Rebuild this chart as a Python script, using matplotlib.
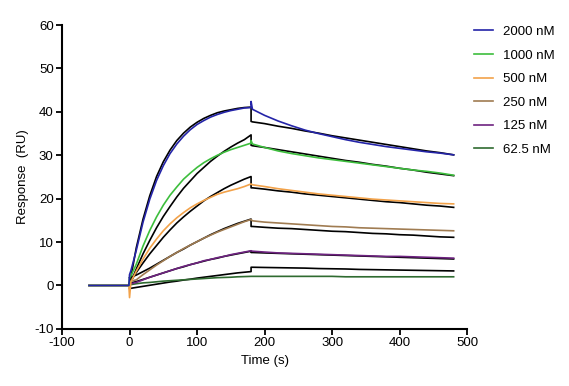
import matplotlib
matplotlib.use("Agg")
import matplotlib.pyplot as plt
import numpy as np

plt.rcParams['font.family'] = ['Liberation Sans', 'DejaVu Sans']
plt.rcParams['axes.unicode_minus'] = False

# concentrations / legend
labels = ['2000 nM', '1000 nM', '500 nM', '250 nM', '125 nM', '62.5 nM']
colors = ['#2424A8', '#3DBE3D', '#F2A24A', '#A07C52', '#6E2380', '#2F6B30']

# time axes (s)
t_base = [-60, -40, -20, -1]
t_assoc = [0, 2, 10, 20, 30, 40, 50, 60, 70, 80, 90, 100, 110, 120, 130, 140, 150, 160, 170, 180]
t_dissoc = [180, 182, 200, 220, 240, 260, 280, 300, 320, 340, 360, 380, 400, 420, 440, 460, 480]

# measured responses (RU)
base = [0, 0, 0, 0]
assoc = {
    '2000 nM': [2.5, 3.4, 8.1, 14.6, 19.9, 24.2, 27.6, 30.4, 32.6, 34.4, 35.9, 37.1, 38.0, 38.8, 39.4, 39.9, 40.3, 40.6, 40.9, 41.0],
    '1000 nM': [1.8, 2.2, 4.9, 9.1, 12.7, 15.8, 18.5, 20.8, 22.7, 24.5, 25.9, 27.2, 28.3, 29.2, 30.0, 30.7, 31.3, 31.8, 32.3, 32.8],
    '500 nM': [-2.8, 0.8, 3.3, 6.1, 8.6, 10.7, 12.6, 14.2, 15.6, 16.8, 17.9, 18.8, 19.6, 20.3, 21.0, 21.5, 21.9, 22.3, 22.8, 23.4],
    '250 nM': [0.8, 1.0, 1.3, 2.5, 3.6, 4.7, 5.7, 6.7, 7.6, 8.5, 9.3, 10.1, 10.9, 11.6, 12.3, 12.9, 13.5, 14.1, 14.7, 15.2],
    '125 nM': [0.3, 0.4, 0.7, 1.3, 1.9, 2.4, 2.9, 3.4, 3.9, 4.4, 4.8, 5.2, 5.7, 6.0, 6.4, 6.7, 7.1, 7.4, 7.7, 8.0],
    '62.5 nM': [0.1, 0.2, 0.4, 0.6, 0.7, 0.85, 1.0, 1.1, 1.2, 1.3, 1.4, 1.5, 1.6, 1.7, 1.8, 1.85, 1.9, 2.0, 2.05, 2.1],
}
dissoc = {
    '2000 nM': [42.4, 40.6, 39.2, 37.9, 36.8, 35.8, 35.0, 34.3, 33.6, 33.0, 32.5, 32.0, 31.6, 31.2, 30.8, 30.5, 30.1],
    '1000 nM': [33.4, 32.6, 31.8, 31.0, 30.4, 29.9, 29.4, 29.0, 28.6, 28.2, 27.8, 27.4, 27.0, 26.6, 26.3, 25.9, 25.4],
    '500 nM': [23.4, 23.2, 22.8, 22.3, 21.9, 21.5, 21.1, 20.8, 20.5, 20.2, 19.9, 19.7, 19.5, 19.3, 19.1, 18.9, 18.8],
    '250 nM': [15.2, 14.9, 14.6, 14.4, 14.2, 14.0, 13.8, 13.6, 13.5, 13.3, 13.2, 13.1, 13.0, 12.9, 12.8, 12.7, 12.6],
    '125 nM': [8.0, 7.9, 7.7, 7.5, 7.4, 7.3, 7.2, 7.1, 7.0, 6.9, 6.8, 6.7, 6.7, 6.6, 6.5, 6.4, 6.3],
    '62.5 nM': [2.1, 2.1, 2.1, 2.1, 2.1, 2.1, 2.1, 2.1, 2.0, 2.0, 2.0, 2.0, 2.0, 2.0, 2.0, 2.0, 2.0],
}

# fitted curves (black)
fit_assoc = {
    '2000 nM': [0.0, 1.9, 8.7, 15.3, 20.7, 25.1, 28.5, 31.2, 33.4, 35.1, 36.5, 37.6, 38.5, 39.2, 39.8, 40.2, 40.5, 40.8, 41.0, 41.1],
    '1000 nM': [0.0, 0.8, 3.8, 7.3, 10.4, 13.3, 15.9, 18.2, 20.4, 22.4, 24.1, 25.8, 27.2, 28.6, 29.8, 30.9, 31.9, 32.8, 33.6, 34.7],
    '500 nM': [0.5, 1.0, 3.0, 5.2, 7.3, 9.2, 11.1, 12.8, 14.4, 15.8, 17.1, 18.3, 19.5, 20.5, 21.4, 22.3, 23.1, 23.8, 24.5, 25.1],
    '250 nM': [1.8, 1.9, 2.4, 3.2, 4.0, 4.9, 5.8, 6.7, 7.6, 8.4, 9.3, 10.1, 10.9, 11.7, 12.4, 13.1, 13.7, 14.3, 14.8, 15.3],
    '125 nM': [0.5, 0.6, 0.9, 1.4, 1.9, 2.4, 2.9, 3.4, 3.9, 4.3, 4.8, 5.2, 5.6, 6.0, 6.3, 6.7, 7.0, 7.3, 7.6, 7.9],
    '62.5 nM': [-0.7, -0.65, -0.45, -0.2, 0.05, 0.3, 0.55, 0.8, 1.0, 1.25, 1.45, 1.7, 1.9, 2.1, 2.3, 2.5, 2.7, 2.9, 3.05, 3.2],
}
fit_dissoc = {
    '2000 nM': [37.8, 37.7, 37.3, 36.7, 36.2, 35.6, 35.1, 34.5, 34.0, 33.5, 33.0, 32.5, 32.0, 31.5, 31.0, 30.6, 30.1],
    '1000 nM': [32.3, 32.2, 31.8, 31.3, 30.8, 30.3, 29.8, 29.3, 28.8, 28.4, 27.9, 27.5, 27.0, 26.6, 26.1, 25.7, 25.3],
    '500 nM': [22.5, 22.5, 22.2, 21.8, 21.5, 21.1, 20.8, 20.5, 20.2, 19.9, 19.6, 19.3, 19.1, 18.8, 18.5, 18.3, 18.0],
    '250 nM': [13.6, 13.6, 13.4, 13.2, 13.1, 12.9, 12.7, 12.5, 12.4, 12.2, 12.0, 11.9, 11.7, 11.6, 11.4, 11.2, 11.1],
    '125 nM': [7.6, 7.6, 7.5, 7.4, 7.3, 7.2, 7.1, 7.0, 6.9, 6.8, 6.7, 6.6, 6.5, 6.4, 6.3, 6.2, 6.1],
    '62.5 nM': [4.2, 4.2, 4.15, 4.1, 4.05, 4.0, 3.9, 3.85, 3.8, 3.7, 3.65, 3.6, 3.55, 3.5, 3.45, 3.4, 3.35],
}

fig = plt.figure(figsize=(5.69, 3.86), dpi=100)
ax = fig.add_axes([0.109, 0.148, 0.712, 0.787])

# fits underneath
for lab in labels:
    ax.plot(t_assoc + t_dissoc, fit_assoc[lab] + fit_dissoc[lab],
            color='black', lw=1.2)

# data curves, smallest first so 2000 nM sits on top
handles = {}
for lab, col in reversed(list(zip(labels, colors))):
    t = t_base + t_assoc + t_dissoc
    y = base + assoc[lab] + dissoc[lab]
    handles[lab], = ax.plot(t, y, color=col, lw=1.2, label=lab)

ax.set_xlim(-100, 500)
ax.set_ylim(-10, 60)
ax.set_xticks(np.arange(-100, 501, 100))
ax.set_yticks(np.arange(-10, 61, 10))

for s in ['top', 'right']:
    ax.spines[s].set_visible(False)
for s in ['left', 'bottom']:
    ax.spines[s].set_linewidth(1.5)
ax.tick_params(direction='out', length=4, width=1.3, labelsize=9.5, pad=2)

ax.set_xlabel('Time (s)', fontsize=9.5, labelpad=4)
ax.set_ylabel('Response  (RU)', fontsize=9.5, labelpad=4)

ax.legend([handles[l] for l in labels], labels, loc='upper left',
          bbox_to_anchor=(1.005, 1.015), frameon=False, fontsize=9.5,
          handlelength=1.4, handletextpad=0.8, labelspacing=0.86,
          borderaxespad=0)

fig.savefig('out.png', dpi=100)
